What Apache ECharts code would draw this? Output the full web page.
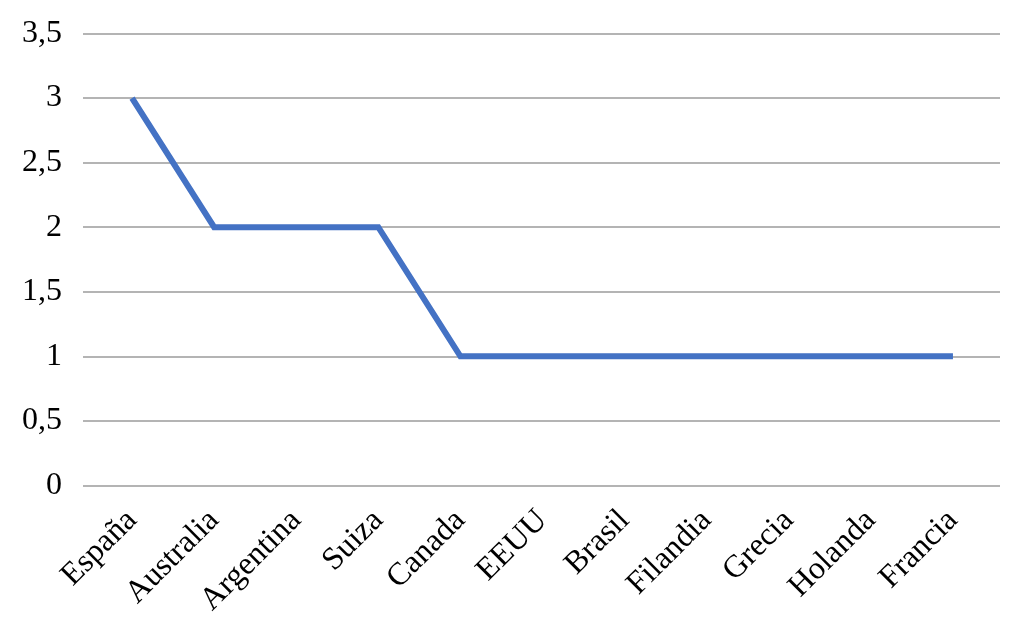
<!DOCTYPE html>
<html>
<head>
<meta charset="utf-8">
<script src="https://cdn.jsdelivr.net/npm/echarts@6/dist/echarts.min.js"></script>
<style>
html,body{margin:0;padding:0;background:#fff;}
#c{width:1034px;height:638px;}
</style>
</head>
<body>
<div id="c"></div>
<script>
const categories = ['España','Australia','Argentina','Suiza','Canada','EEUU','Brasil','Filandia','Grecia','Holanda','Francia'];
const values = [3, 2, 2, 2, 1, 1, 1, 1, 1, 1, 1];
const yMin = 0, yMax = 3.5, yStep = 0.5;

const chart = echarts.init(document.getElementById('c'));
const font = '"Liberation Serif", "Times New Roman", serif';
const gTop = 33.5, gBottom = 638 - 485.5;
chart.setOption({
  animation: false,
  grid: [
    {left: 83, right: 34, top: gTop, bottom: gBottom},
    {left: 91, right: 40, top: gTop, bottom: gBottom}
  ],
  xAxis: [
    {gridIndex: 0, type: 'value', show: false, min: 0, max: 1},
    {
      gridIndex: 1, type: 'category', data: categories, boundaryGap: true,
      axisLine: {show: false}, axisTick: {show: false},
      axisLabel: {rotate: 45, interval: 0, margin: 30, fontFamily: font, fontSize: 32, color: '#000'}
    }
  ],
  yAxis: [
    {
      gridIndex: 0, type: 'value', min: yMin, max: yMax, interval: yStep,
      axisLine: {show: false}, axisTick: {show: false},
      splitLine: {lineStyle: {color: '#b4b4b4', width: 2}},
      axisLabel: {
        margin: 21, fontFamily: font, fontSize: 32, color: '#000',
        formatter: v => String(v).replace('.', ',')
      }
    },
    {gridIndex: 1, type: 'value', min: yMin, max: yMax, interval: yStep, show: false, splitLine: {show: false}}
  ],
  series: [{
    type: 'line', xAxisIndex: 1, yAxisIndex: 1, data: values,
    showSymbol: false, symbol: 'none',
    lineStyle: {color: '#4472C4', width: 6, cap: 'butt', join: 'miter'}
  }]
});
</script>
</body>
</html>
